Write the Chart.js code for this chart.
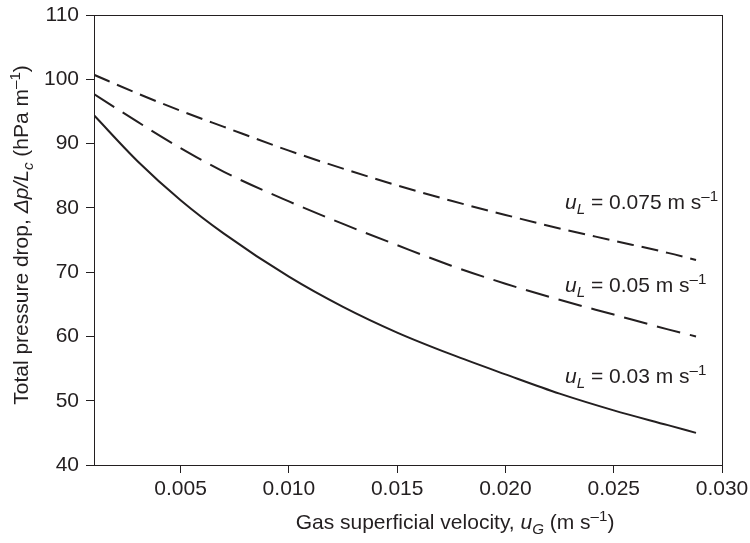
<!DOCTYPE html>
<html>
<head>
<meta charset="utf-8">
<script src="https://cdn.jsdelivr.net/npm/chart.js@4.4.1/dist/chart.umd.min.js"></script>
<style>
  body { margin: 0; background: #fff; }
  #wrap { width: 750px; height: 543px; }
</style>
</head>
<body>
<div id="wrap"><canvas id="chart"></canvas></div>
<script>
// gas superficial velocity (m/s)
const uG = [0.001, 0.003, 0.005, 0.007, 0.010, 0.0125, 0.015, 0.0175, 0.020, 0.0225, 0.025, 0.0275, 0.0288];
// total pressure drop (hPa/m) for each liquid velocity
const dpL003 = [94.4, 87.3, 81.2, 76.0, 69.3, 64.6, 60.6, 57.2, 54.1, 51.1, 48.5, 46.2, 45.0];
const dpL005 = [97.7, 93.4, 89.3, 85.6, 81.0, 77.5, 74.2, 71.0, 68.2, 65.7, 63.4, 61.1, 60.0];
const dpL0075 = [100.7, 97.8, 95.1, 92.6, 88.9, 86.1, 83.5, 81.1, 78.9, 76.8, 74.9, 73.0, 71.9];

const xTicks = [0.005, 0.010, 0.015, 0.020, 0.025, 0.030];
const curveLabels = ["0.03", "0.05", "0.075"];
// where each curve label sits, in data units (x, y of baseline)
const labelAt = [[0.02275, 52.7], [0.02275, 66.9], [0.02275, 79.8]];

const ink = "#231f20";
const fam = '"Liberation Sans", Arial, Helvetica, sans-serif';
const fs = 21;

const pts = (ys) => uG.map((x, i) => ({x: x, y: ys[i]}));

// draw a run of text pieces (italic / sub / sup) starting at x,y
function richWidth(ctx, parts) {
  let w = 0;
  parts.forEach(p => {
    const size = (p.sub || p.sup) ? fs * 0.72 : fs;
    ctx.font = (p.it ? "italic " : "") + size + "px " + fam;
    w += ctx.measureText(p.t).width;
  });
  return w;
}
function drawRich(ctx, parts, x, y) {
  parts.forEach(p => {
    const size = (p.sub || p.sup) ? fs * 0.72 : fs;
    ctx.font = (p.it ? "italic " : "") + size + "px " + fam;
    let dy = 0;
    if (p.sub) dy = 5;
    if (p.sup) dy = -8;
    ctx.fillText(p.t, x, y + dy);
    x += ctx.measureText(p.t).width;
  });
}

const extras = {
  id: "extras",
  afterDraw(chart) {
    const ctx = chart.ctx;
    const a = chart.chartArea;
    const xs = chart.scales.x, ys = chart.scales.y;
    ctx.save();
    ctx.strokeStyle = ink;
    ctx.lineWidth = 1;
    ctx.strokeRect(Math.round(a.left) + 0.5, Math.round(a.top) + 0.5,
      Math.round(a.right - a.left), Math.round(a.bottom - a.top));

    ctx.fillStyle = ink;
    ctx.textAlign = "left";
    ctx.textBaseline = "alphabetic";

    // curve labels
    curveLabels.forEach((v, i) => {
      const px = xs.getPixelForValue(labelAt[i][0]);
      const py = ys.getPixelForValue(labelAt[i][1]);
      drawRich(ctx, [
        {t: "u", it: true}, {t: "L", it: true, sub: true},
        {t: " = " + v + " m s"}, {t: "\u20131", sup: true}
      ], px, py);
    });

    // x axis title
    const xt = [
      {t: "Gas superficial velocity, "}, {t: "u", it: true}, {t: "G", it: true, sub: true},
      {t: " (m s"}, {t: "\u20131", sup: true}, {t: ")"}
    ];
    const xw = richWidth(ctx, xt);
    drawRich(ctx, xt, 455 - xw / 2, 529);

    // y axis title
    const yt = [
      {t: "Total pressure drop, "}, {t: "\u0394p/L", it: true}, {t: "c", it: true, sub: true},
      {t: " (hPa m"}, {t: "\u20131", sup: true}, {t: ")"}
    ];
    const yw = richWidth(ctx, yt);
    ctx.translate(28, 235);
    ctx.rotate(-Math.PI / 2);
    drawRich(ctx, yt, -yw / 2, 0);
    ctx.restore();
  }
};

const line = (ys, dash) => ({
  data: pts(ys),
  borderColor: ink,
  borderWidth: 2,
  borderDash: dash,
  pointRadius: 0,
  fill: false,
  cubicInterpolationMode: "monotone"
});

new Chart(document.getElementById("chart"), {
  type: "line",
  data: {
    datasets: [
      line(dpL003, []),
      line(dpL005, [24, 10]),
      line(dpL0075, [17, 8])
    ]
  },
  options: {
    responsive: true,
    maintainAspectRatio: false,
    devicePixelRatio: 1,
    animation: false,
    layout: { padding: { left: 0, top: 15, right: 28, bottom: 0 } },
    plugins: { legend: { display: false }, tooltip: { enabled: false } },
    scales: {
      x: {
        type: "linear",
        min: 0.001,
        max: 0.030,
        afterBuildTicks: (s) => { s.ticks = xTicks.map(v => ({value: v})); },
        afterFit: (s) => { s.height = 78; s.paddingLeft = 0; s.paddingRight = 0; },
        border: { display: false },
        grid: { drawOnChartArea: false, drawTicks: true, tickLength: 8, color: ink, lineWidth: 1 },
        ticks: {
          color: ink, padding: 4, maxRotation: 0, autoSkip: false,
          font: { family: fam, size: fs },
          callback: (v) => Number(v).toFixed(3)
        }
      },
      y: {
        min: 40,
        max: 110,
        afterFit: (s) => { s.width = 94; s.paddingTop = 0; s.paddingBottom = 0; },
        border: { display: false },
        grid: { drawOnChartArea: false, drawTicks: true, tickLength: 8, color: ink, lineWidth: 1 },
        ticks: {
          stepSize: 10, color: ink, padding: 7,
          font: { family: fam, size: fs }
        }
      }
    }
  },
  plugins: [extras]
});
</script>
</body>
</html>
